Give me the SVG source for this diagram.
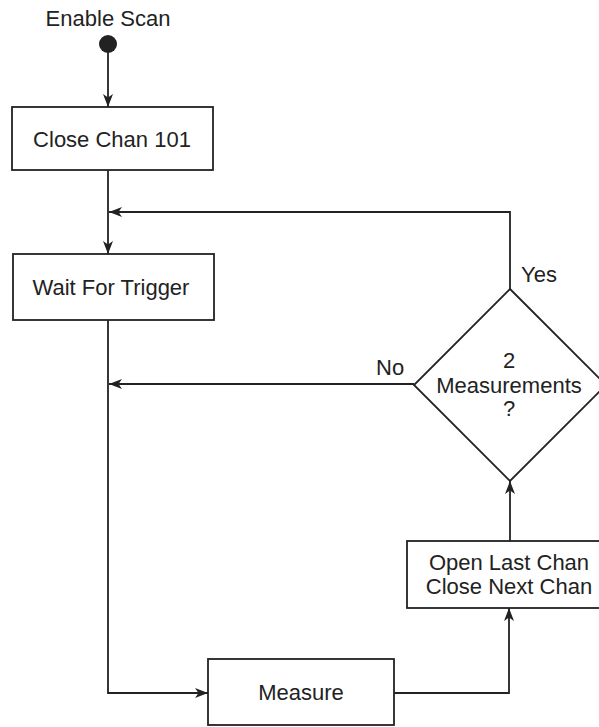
<svg xmlns="http://www.w3.org/2000/svg" width="599" height="727" viewBox="0 0 599 727">
<defs>
<marker id="ah" viewBox="0 0 13 10" refX="13" refY="5" markerWidth="13" markerHeight="10" markerUnits="userSpaceOnUse" orient="auto">
<path d="M0,0 L13,5 L0,10 L3.5,5 Z" fill="#222"/>
</marker>
</defs>
<style>
.box{fill:#fff;stroke:#222;stroke-width:1.8}
.ln{fill:none;stroke:#222;stroke-width:1.8}
.t{font-family:"Liberation Sans",Arial,sans-serif;font-size:22px;fill:#222;text-anchor:middle}
.l{font-family:"Liberation Sans",Arial,sans-serif;font-size:22px;fill:#222}
</style>
<rect width="599" height="727" fill="#fff"/>
<g id="connectors">
<line class="ln" x1="108" y1="44" x2="108" y2="107" marker-end="url(#ah)"/>
<line class="ln" x1="108" y1="170" x2="108" y2="254" marker-end="url(#ah)"/>
<polyline class="ln" points="510,289 510,212 109,212" marker-end="url(#ah)"/>
<line class="ln" x1="414" y1="384" x2="109" y2="384" marker-end="url(#ah)"/>
<polyline class="ln" points="108,320 108,693 208,693" marker-end="url(#ah)"/>
<polyline class="ln" points="394,693 509,693 509,608" marker-end="url(#ah)"/>
<line class="ln" x1="510" y1="541" x2="510" y2="481" marker-end="url(#ah)"/>
</g>
<g id="start">
<text class="t" x="108" y="26">Enable Scan</text>
<circle cx="108" cy="44" r="9" fill="#222"/>
</g>
<g id="close101">
<rect class="box" x="12" y="107" width="201" height="63"/>
<text class="t" x="112" y="147">Close Chan 101</text>
</g>
<g id="wait">
<rect class="box" x="13" y="254" width="201" height="66"/>
<text class="t" x="111" y="295">Wait For Trigger</text>
</g>
<g id="decision">
<polygon class="box" points="510,289 606,385 510,481 414,385"/>
<text class="t" x="509" y="368">2</text>
<text class="t" x="509" y="393">Measurements</text>
<text class="t" x="509" y="416">?</text>
<text class="l" x="521" y="282">Yes</text>
<text class="l" x="376" y="375">No</text>
</g>
<g id="openlast">
<rect class="box" x="407" y="541" width="205" height="67"/>
<text class="t" x="509" y="570">Open Last Chan</text>
<text class="t" x="509" y="594">Close Next Chan</text>
</g>
<g id="measure">
<rect class="box" x="208" y="659" width="186" height="66"/>
<text class="t" x="301" y="700">Measure</text>
</g>
</svg>
